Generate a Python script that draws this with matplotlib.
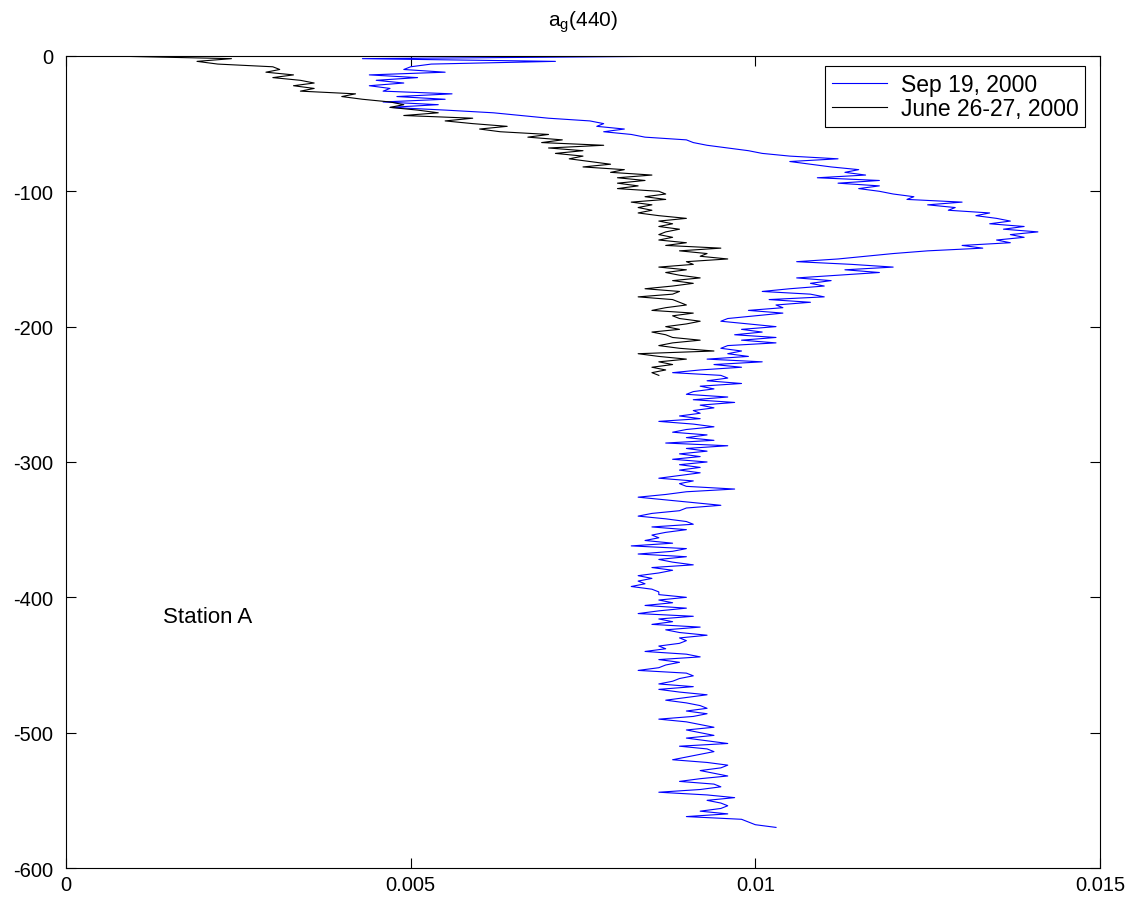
import numpy as np
import matplotlib
matplotlib.use("Agg")
import matplotlib.pyplot as plt

plt.rcParams["font.family"] = ["Liberation Sans", "DejaVu Sans"]
plt.rcParams["mathtext.fontset"] = "custom"
plt.rcParams["mathtext.rm"] = "Liberation Sans"
plt.rcParams["mathtext.it"] = "Liberation Sans"
plt.rcParams["axes.unicode_minus"] = False

# perfis de a_g(440), valores em 1e-3 m^-1, amostrados a cada 2 m
passo = 2

sep_ag = [
    9.3, 4.3, 7.1, 5.3, 5.0, 4.9, 5.5, 4.4, 5.1, 4.5,
    4.9, 4.4, 4.7, 4.6, 5.6, 4.8, 5.5, 4.6, 5.4, 4.7,
    5.5, 6.2, 6.6, 7.0, 7.6, 7.8, 7.7, 8.1, 7.8, 8.2,
    8.4, 9.0, 9.1, 9.3, 9.6, 9.9, 10.1, 10.5, 11.2, 10.5,
    10.8, 11.1, 11.5, 11.3, 11.6, 10.9, 11.8, 11.2, 11.8, 11.5,
    11.8, 12.0, 12.3, 12.2, 13.0, 12.5, 12.9, 12.8, 13.4, 13.2,
    13.5, 13.7, 13.4, 13.9, 13.6, 14.1, 13.7, 13.9, 13.5, 13.7,
    13.0, 13.3, 12.5, 12.0, 11.6, 11.2, 10.6, 11.4, 12.0, 11.3,
    11.8, 11.2, 10.6, 11.1, 10.8, 11.0, 10.5, 10.1, 10.8, 11.0,
    10.2, 10.8, 10.3, 10.4, 9.9, 10.4, 10.0, 9.6, 9.5, 9.9,
    10.3, 9.8, 10.1, 9.7, 10.3, 9.8, 10.3, 9.6, 9.5, 9.8,
    9.6, 9.9, 9.3, 10.1, 9.4, 9.8, 9.2, 8.8, 9.5, 9.6,
    9.3, 9.8, 9.2, 9.4, 9.1, 9.0, 9.6, 9.1, 9.7, 9.2,
    9.4, 9.1, 9.2, 8.9, 9.2, 8.6, 9.1, 9.4, 9.0, 8.8,
    9.3, 9.0, 9.4, 8.7, 9.6, 9.0, 9.3, 8.9, 9.2, 8.8,
    9.3, 8.9, 9.2, 8.9, 9.2, 8.9, 8.6, 9.1, 8.9, 9.0,
    9.7, 9.0, 8.7, 8.3, 8.7, 9.1, 9.5, 9.0, 8.9, 8.5,
    8.3, 8.7, 9.0, 9.1, 8.5, 9.0, 8.7, 8.5, 8.6, 8.4,
    8.8, 8.2, 9.0, 8.8, 8.3, 9.0, 8.6, 8.8, 9.1, 8.5,
    8.8, 8.6, 8.3, 8.5, 8.3, 8.4, 8.2, 8.5, 8.6, 8.6,
    9.0, 8.6, 8.8, 8.4, 9.0, 8.6, 8.3, 9.1, 8.6, 8.8,
    8.5, 9.2, 8.7, 8.9, 9.3, 8.9, 9.0, 8.9, 8.6, 8.7,
    8.4, 9.0, 9.2, 8.6, 8.9, 8.7, 8.6, 8.3, 9.0, 9.1,
    8.9, 8.8, 8.6, 9.1, 8.6, 8.9, 9.3, 9.0, 8.7, 9.0,
    9.2, 9.3, 9.0, 9.3, 9.1, 8.6, 9.0, 9.2, 9.4, 9.0,
    9.2, 9.4, 9.0, 9.3, 9.6, 8.9, 9.3, 9.4, 9.2, 9.0,
    8.8, 9.3, 9.6, 9.5, 9.2, 9.4, 9.6, 9.2, 8.9, 9.4,
    9.5, 9.2, 8.6, 9.3, 9.7, 9.3, 9.5, 9.6, 9.5, 9.2,
    9.6, 9.0, 9.8, 9.9, 10.0, 10.3,
]

jun_ag = [
    0.6, 2.4, 1.9, 2.2, 3.0, 3.1, 2.9, 3.3, 3.0, 3.4,
    3.6, 3.3, 3.6, 3.4, 4.2, 4.0, 4.3, 4.7, 4.9, 4.7,
    5.1, 5.4, 4.9, 5.9, 5.5, 5.9, 6.4, 6.0, 6.3, 7.0,
    6.7, 7.2, 6.9, 7.8, 7.0, 7.5, 7.1, 7.5, 7.3, 7.6,
    7.9, 7.5, 8.1, 7.9, 8.5, 8.0, 8.4, 8.0, 8.3, 8.0,
    8.6, 8.7, 8.4, 8.7, 8.2, 8.5, 8.3, 8.5, 8.3, 8.6,
    9.0, 8.6, 8.8, 8.6, 8.9, 8.7, 8.6, 8.8, 8.6, 9.0,
    8.7, 9.5, 8.9, 9.3, 9.2, 9.6, 9.0, 9.1, 8.6, 9.0,
    8.7, 8.9, 9.2, 8.8, 9.1, 8.8, 8.4, 8.9, 8.8, 8.3,
    8.8, 8.9, 9.0, 8.7, 8.5, 9.1, 8.8, 8.9, 9.2, 9.0,
    8.7, 8.9, 8.5, 8.7, 8.8, 9.2, 8.8, 8.6, 8.9, 9.4,
    8.3, 8.6, 9.0, 8.6, 8.8, 8.5, 8.7, 8.5, 8.6,
]

rotulos = ["Sep 19, 2000", "June 26-27, 2000"]
xticks = [0, 0.005, 0.01, 0.015]
xtick_labels = ["0", "0.005", "0.01", "0.015"]
yticks = [0, -100, -200, -300, -400, -500, -600]

sep_x = np.array(sep_ag) * 1e-3
jun_x = np.array(jun_ag) * 1e-3
sep_z = -np.arange(len(sep_x)) * passo
jun_z = -np.arange(len(jun_x)) * passo

fig = plt.figure(figsize=(11.27, 9.04), dpi=100)
ax = fig.add_axes([0.0586, 0.0387, 0.9174, 0.8983])

ax.plot(sep_x, sep_z, color="#0000ff", lw=0.8, label=rotulos[0])
ax.plot(jun_x, jun_z, color="black", lw=0.8, label=rotulos[1])

ax.set_xlim(0, 0.015)
ax.set_ylim(-600, 0)
ax.set_xticks(xticks)
ax.set_xticklabels(xtick_labels)
ax.set_yticks(yticks)
ax.tick_params(direction="in", length=7, width=0.8, labelsize=14.5,
               top=True, right=True)
ax.tick_params(axis="x", pad=5)
ax.tick_params(axis="y", pad=9)
for s in ax.spines.values():
    s.set_linewidth(0.8)

ax.set_title(r"a$_{\mathrm{g}}$(440)", fontsize=15, pad=22)
ax.text(0.0014, -414, "Station A", fontsize=16, va="center")

leg = ax.legend(loc="upper right", bbox_to_anchor=(0.986, 0.988),
                borderaxespad=0, fancybox=False, edgecolor="black",
                fontsize=16.5, handlelength=2.4, handletextpad=0.6,
                framealpha=1, borderpad=0.3, labelspacing=0.05)
leg.get_frame().set_linewidth(0.8)

fig.savefig("out.png", dpi=100)
